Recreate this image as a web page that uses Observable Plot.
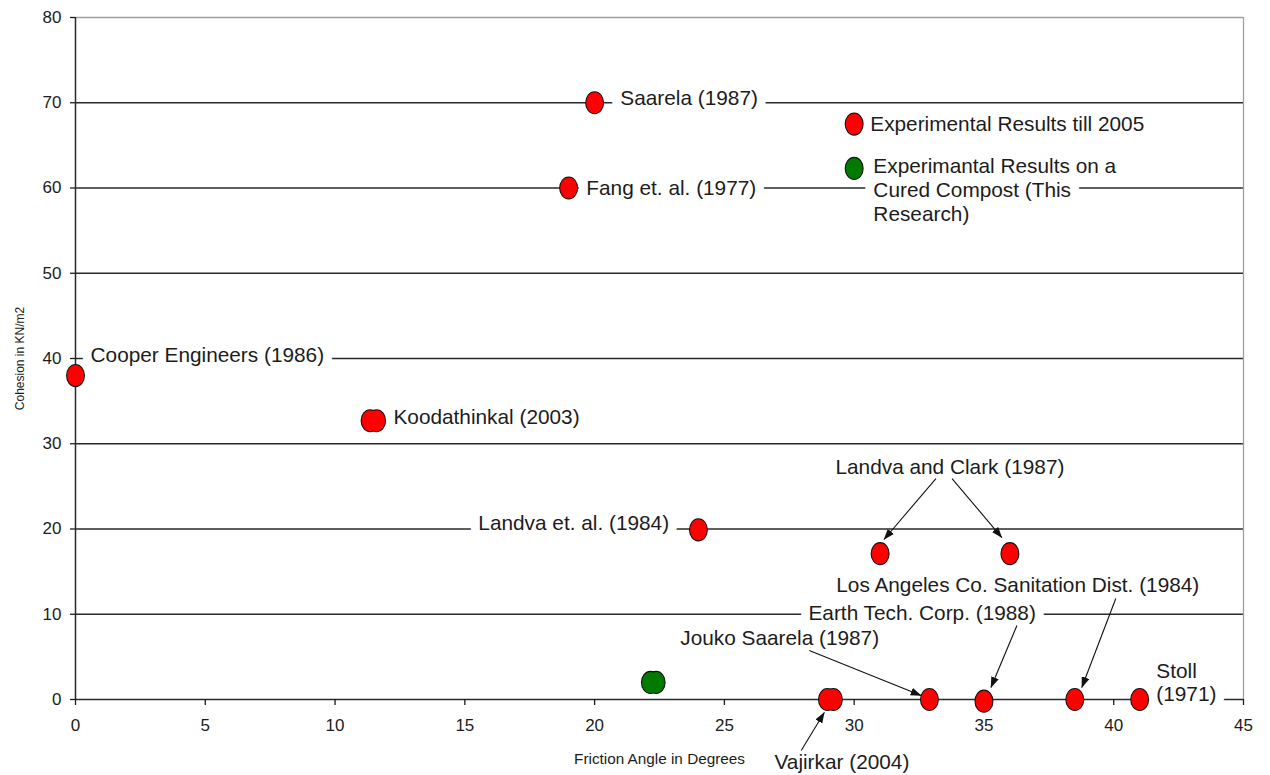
<!DOCTYPE html>
<html>
<head>
<meta charset="utf-8">
<script src="https://cdn.jsdelivr.net/npm/d3@7"></script>
<script src="https://cdn.jsdelivr.net/npm/@observablehq/plot@0.6"></script>
<style>
  html, body { margin: 0; padding: 0; background: #fff; }
  #chart { width: 1270px; height: 775px; }
</style>
</head>
<body>
<div id="chart"></div>
<script>
// ---- Data ----
const xTicks = [0, 5, 10, 15, 20, 25, 30, 35, 40, 45];
const yTicks = [0, 10, 20, 30, 40, 50, 60, 70, 80];
const gridValues = [10, 20, 30, 40, 50, 60, 70];

// Literature results (red)
const redStudy = ["Saarela (1987)", "Fang et. al. (1977)", "Cooper Engineers (1986)",
  "Koodathinkal (2003)", "Koodathinkal (2003)", "Landva et. al. (1984)",
  "Landva and Clark (1987)", "Landva and Clark (1987)", "Vajirkar (2004)", "Vajirkar (2004)",
  "Jouko Saarela (1987)", "Earth Tech. Corp. (1988)", "Los Angeles Co. Sanitation Dist. (1984)", "Stoll (1971)"];
const redFriction = [20, 19, 0, 11.35, 11.6, 24, 31, 36, 28.97, 29.2, 32.9, 35, 38.5, 41];
const redCohesion = [70, 60, 38, 32.7, 32.7, 19.9, 17.1, 17.1, 0, 0, 0, -0.2, 0, 0];

// This research (green)
const greenFriction = [22.15, 22.37];
const greenCohesion = [2, 2];

// Legend entries drawn inside the plot
const legendText = ["Experimental Results till 2005", "Experimantal Results on a\nCured Compost (This\nResearch)"];
const legendColor = ["red", "green"];
const legendMarkX = [30, 30];
const legendMarkY = [67.5, 62.3];
const legendTextX = [30.62, 30.74];
const legendTextY = [67.57, 59.82];

// Annotation labels
const labelText = ["Saarela (1987)", "Fang et. al. (1977)", "Cooper Engineers (1986)",
  "Koodathinkal (2003)", "Landva and Clark (1987)", "Landva et. al. (1984)",
  "Los Angeles Co. Sanitation Dist. (1984)", "Earth Tech. Corp. (1988)",
  "Jouko Saarela (1987)", "Vajirkar (2004)", "Stoll\n(1971)"];
const labelX = [20.99, 19.68, 0.58, 12.25, 29.28, 15.52, 29.31, 28.24, 23.3, 26.93, 41.64];
const labelY = [70.6, 60.06, 40.47, 33.2, 27.33, 20.76, 13.49, 10.2, 7.27, -7.3, 2.05];

// Arrows (label -> point)
const arrowX1 = [33.15, 33.77, 28.27, 36.27, 40.08, 27.96];
const arrowY1 = [25.92, 25.92, 5.75, 8.68, 11.85, -5.98];
const arrowX2 = [31.15, 35.69, 32.58, 35.27, 38.77, 28.85];
const arrowY2 = [18.77, 19.0, 0.47, 1.41, 1.41, -1.52];

// ---- Build tables ----
const red = redStudy.map((s, i) => ({study: s, x: redFriction[i], y: redCohesion[i], c: "red"}));
const green = greenFriction.map((x, i) => ({x, y: greenCohesion[i], c: "green"}));
const legendMarks = legendText.map((t, i) => ({x: legendMarkX[i], y: legendMarkY[i], c: legendColor[i]}));
const allDots = red.concat(green, legendMarks);
const labels = labelText.map((t, i) => ({text: t, x: labelX[i], y: labelY[i]}))
  .concat(legendText.map((t, i) => ({text: t, x: legendTextX[i], y: legendTextY[i]})));
const arrows = arrowX1.map((x1, i) => ({x1, y1: arrowY1[i], x2: arrowX2[i], y2: arrowY2[i]}));

const colorMap = {red: "#ff0000", green: "#007a00"};

// Ellipse symbol (slightly taller than wide)
const ellipse = {
  draw(ctx, size) {
    const r = Math.sqrt(size / Math.PI);
    const rx = r * 0.8, ry = r, k = 0.5523;
    ctx.moveTo(rx, 0);
    ctx.bezierCurveTo(rx, ry * k, rx * k, ry, 0, ry);
    ctx.bezierCurveTo(-rx * k, ry, -rx, ry * k, -rx, 0);
    ctx.bezierCurveTo(-rx, -ry * k, -rx * k, -ry, 0, -ry);
    ctx.bezierCurveTo(rx * k, -ry, rx, -ry * k, rx, 0);
    ctx.closePath();
  }
};

const textColor = "#1c1c1c";
const labelOpts = {x: "x", y: "y", text: "text", textAnchor: "start", lineAnchor: "middle", fontSize: 20.8, lineHeight: 1.14};

const chart = Plot.plot({
  width: 1270,
  height: 775,
  marginLeft: 75,
  marginRight: 27,
  marginTop: 17,
  marginBottom: 76,
  x: {domain: [0, 45]},
  y: {domain: [0, 80]},
  style: {fontFamily: "'Liberation Sans', Arial, sans-serif", background: "#fff", color: textColor},
  marks: [
    Plot.ruleY(gridValues, {stroke: "#2a2a2a", strokeWidth: 1.3}),
    Plot.ruleY([80], {stroke: "#a0a0a0", strokeWidth: 1.3}),
    Plot.ruleX([45], {stroke: "#a0a0a0", strokeWidth: 1.3}),
    Plot.ruleX([0], {stroke: "#2a2a2a", strokeWidth: 1.5}),
    Plot.ruleY([0], {stroke: "#2a2a2a", strokeWidth: 1.5}),
    Plot.axisY({ticks: yTicks, tickSize: 5, tickPadding: 9, fontSize: 17, label: null, strokeWidth: 1.3}),
    Plot.axisX({ticks: xTicks, tickSize: 6, tickPadding: 13, fontSize: 17, label: null, strokeWidth: 1.3}),
    // white boxes behind labels
    Plot.text(labels, {...labelOpts, fill: "white", stroke: "white", strokeWidth: 18, strokeLinejoin: "round"}),
    Plot.text(labels, {...labelOpts, fill: textColor}),
    Plot.link(arrows, {x1: "x1", y1: "y1", x2: "x2", y2: "y2", stroke: "#111", strokeWidth: 1.1}),
    // outline layer, then fill layer (merged outline for overlapping points)
    Plot.dot(allDots, {x: "x", y: "y", r: 10.5, symbol: ellipse, fill: "#111", stroke: "#111", strokeWidth: 2.2}),
    Plot.dot(allDots, {x: "x", y: "y", r: 10.5, symbol: ellipse, fill: d => colorMap[d.c]}),
    Plot.text(["Friction Angle in Degrees"], {frameAnchor: "bottom", dy: 64, fontSize: 15.3, fill: textColor}),
    Plot.text(["Cohesion in KN/m2"], {frameAnchor: "left", dx: -55, rotate: -90, textAnchor: "middle", fontSize: 12, fill: textColor})
  ]
});

// Filled arrowheads on the links
const svgNS = "http://www.w3.org/2000/svg";
const defs = document.createElementNS(svgNS, "defs");
const marker = document.createElementNS(svgNS, "marker");
marker.setAttribute("id", "ahead");
marker.setAttribute("viewBox", "0 0 11 8");
marker.setAttribute("refX", "10.5");
marker.setAttribute("refY", "4");
marker.setAttribute("markerWidth", "11");
marker.setAttribute("markerHeight", "8");
marker.setAttribute("markerUnits", "userSpaceOnUse");
marker.setAttribute("orient", "auto");
const mp = document.createElementNS(svgNS, "path");
mp.setAttribute("d", "M0,0L11,4L0,8Z");
mp.setAttribute("fill", "#111");
marker.appendChild(mp);
defs.appendChild(marker);
chart.insertBefore(defs, chart.firstChild);
chart.querySelectorAll('g[aria-label="link"] path').forEach(p => p.setAttribute("marker-end", "url(#ahead)"));

document.getElementById("chart").appendChild(chart);
</script>
</body>
</html>
